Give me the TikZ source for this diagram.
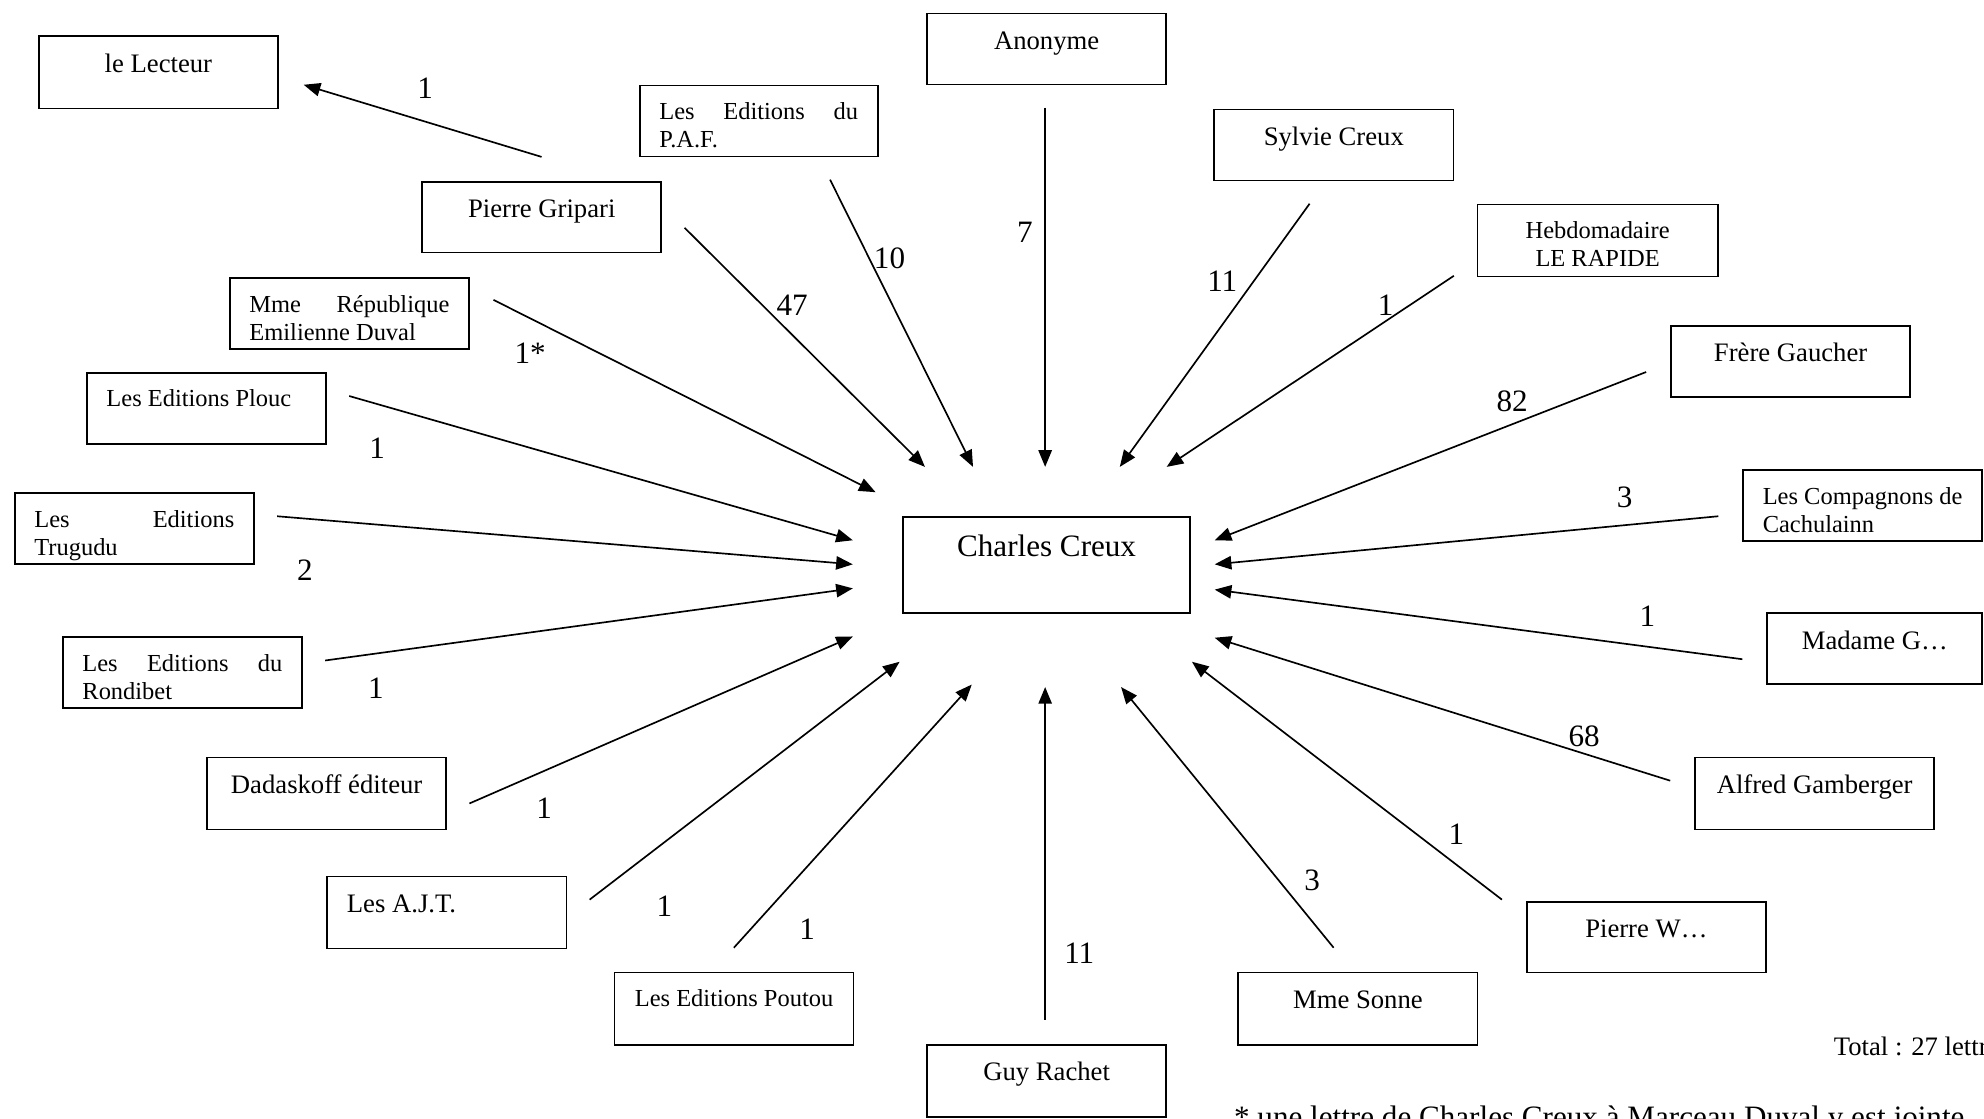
\documentclass[tikz,border=0pt]{standalone}
\usepackage{fontspec}
\setmainfont{Liberation Serif}
\usetikzlibrary{arrows.meta}

% one grid unit of the drawing
\newlength\ux \setlength\ux{0.02cm}
\newcommand\fsA{\fontsize{11}{12.65}\selectfont}
\newcommand\fsB{\fontsize{12}{13.8}\selectfont}
\newcommand\fsC{\fontsize{14}{16.1}\selectfont}
% box body: width and height in grid units, text hanging from the top
\newcommand\pbx[3]{\parbox[c][#2\ux][t]{\dimexpr#1\ux-31\ux\relax}{\vspace*{6.5pt}#3}}

\tikzset{
  bx/.style={draw, line width=0.75pt, inner xsep=0.31cm, inner ysep=0pt,
             anchor=north west, font=\fsB},
  lab/.style={inner sep=0pt, font=\fsC},
  con/.style={line width=0.75pt, -{Triangle[length=7.5pt,width=6pt]}},
  note/.style={inner sep=0pt, anchor=base west},
}

\begin{document}
\begin{tikzpicture}[x=0.02cm, y=-0.02cm]
\useasboundingbox (0,0) rectangle (1568,884);
\clip (0,0) rectangle (1568,884);

% ---- correspondents
\node[bx] (lect)  at (30,28)    {\pbx{189}{57}{\centering\strut le Lecteur}};
\node[bx] (paf)   at (505,67)   {\pbx{188}{56}{\fsA\strut Les\hfill Editions\hfill du\\P.A.F.}};
\node[bx] (anon)  at (732,10)   {\pbx{189}{56}{\centering\strut Anonyme}};
\node[bx] (sylv)  at (959,86)   {\pbx{189}{56}{\centering\strut Sylvie Creux}};
\node[bx] (grip)  at (333,143)  {\pbx{189}{56}{\centering\strut Pierre Gripari}};
\node[bx] (hebdo) at (1167,161) {\pbx{190}{57}{\centering\fsA\strut Hebdomadaire\\LE RAPIDE}};
\node[bx] (rep)   at (181,219)  {\pbx{189}{56}{\fsA\strut Mme\hfill République\\Emilienne Duval}};
\node[bx] (frere) at (1320,257) {\pbx{189}{56}{\centering\strut Frère Gaucher}};
\node[bx] (plouc) at (68,294)   {\pbx{189}{56}{\fsA\strut Les Editions Plouc}};
\node[bx] (trug)  at (11,389)   {\pbx{189}{56}{\fsA\strut Les\hfill Editions\\Trugudu}};
\node[bx] (comp)  at (1377,371) {\pbx{189}{56}{\fsA\strut\mbox{Les Compagnons de}\\Cachulainn}};
\node[bx] (rond)  at (49,503)   {\pbx{189}{56}{\fsA\strut Les\hfill Editions\hfill du\\Rondibet}};
\node[bx] (madg)  at (1396,484) {\pbx{170}{56}{\centering\strut Madame G…}};
\node[bx] (dada)  at (163,598)  {\pbx{189}{57}{\centering\strut Dadaskoff éditeur}};
\node[bx] (alfr)  at (1339,598) {\pbx{189}{57}{\centering\strut Alfred Gamberger}};
\node[bx] (ajt)   at (258,692)  {\pbx{189}{57}{\strut Les A.J.T.}};
\node[bx] (pw)    at (1206,712) {\pbx{189}{56}{\centering\strut Pierre W…}};
\node[bx] (pout)  at (485,768)  {\pbx{189}{57}{\centering\fsA\strut Les Editions Poutou}};
\node[bx] (sonne) at (978,768)  {\pbx{189}{57}{\centering\strut Mme Sonne}};
\node[bx] (guy)   at (732,825)  {\pbx{189}{57}{\centering\strut Guy Rachet}};

% ---- the addressee
\node[bx] (cc) at (713,408) {\pbx{227}{76}{\centering\fsC\strut Charles Creux}};

% ---- connector ends
\coordinate (s0)  at (428,124);  \coordinate (e0)  at (240,67);
\coordinate (s1)  at (656,142);  \coordinate (e1)  at (769,369);
\coordinate (s2)  at (826,85);   \coordinate (e2)  at (826,369);
\coordinate (s3)  at (541,180);  \coordinate (e3)  at (731,369);
\coordinate (s4)  at (1035,161); \coordinate (e4)  at (885,369);
\coordinate (s5)  at (1149,218); \coordinate (e5)  at (922,369);
\coordinate (s6)  at (390,237);  \coordinate (e6)  at (692,389);
\coordinate (s7)  at (1301,294); \coordinate (e7)  at (960,427);
\coordinate (s8)  at (276,313);  \coordinate (e8)  at (674,427);
\coordinate (s9)  at (219,408);  \coordinate (e9)  at (674,446);
\coordinate (s10) at (1358,408); \coordinate (e10) at (960,446);
\coordinate (s11) at (257,522);  \coordinate (e11) at (674,465);
\coordinate (s12) at (1377,521); \coordinate (e12) at (960,466);
\coordinate (s13) at (371,635);  \coordinate (e13) at (674,503);
\coordinate (s14) at (1320,617); \coordinate (e14) at (960,504);
\coordinate (s15) at (466,711);  \coordinate (e15) at (711,523);
\coordinate (s16) at (1187,711); \coordinate (e16) at (942,523);
\coordinate (s17) at (580,749);  \coordinate (e17) at (768,541);
\coordinate (s18) at (1054,749); \coordinate (e18) at (886,543);
\coordinate (s19) at (826,806);  \coordinate (e19) at (826,543);

\foreach \i in {0,...,19} \draw[con] (s\i) -- (e\i);

% ---- letter counts
\node[lab] (n0)  at (336,70)   {1};
\node[lab] (n1)  at (703,204)  {10};
\node[lab] (n2)  at (810,184)  {7};
\node[lab] (n3)  at (626,241)  {47};
\node[lab] (n4)  at (966,222)  {11};
\node[lab] (n5)  at (1095,241) {1};
\node[lab] (n6)  at (419,279)  {1*};
\node[lab] (n7)  at (1195,317) {82};
\node[lab] (n8)  at (298,354)  {1};
\node[lab] (n9)  at (241,451)  {2};
\node[lab] (n10) at (1284,393) {3};
\node[lab] (n11) at (297,544)  {1};
\node[lab] (n12) at (1302,487) {1};
\node[lab] (n13) at (430,639)  {1};
\node[lab] (n14) at (1252,582) {68};
\node[lab] (n15) at (525,716)  {1};
\node[lab] (n16) at (1151,659) {1};
\node[lab] (n17) at (638,734)  {1};
\node[lab] (n18) at (1037,696) {3};
\node[lab] (n19) at (853,753)  {11};

% ---- notes
\node[note, font=\fsB] (total) at (1449,834) {Total : 27 lettres};
\node[note, font=\fsC] (star)  at (975,891)
  {* une lettre de Charles Creux à Marceau Duval y est jointe};
\end{tikzpicture}
\end{document}
